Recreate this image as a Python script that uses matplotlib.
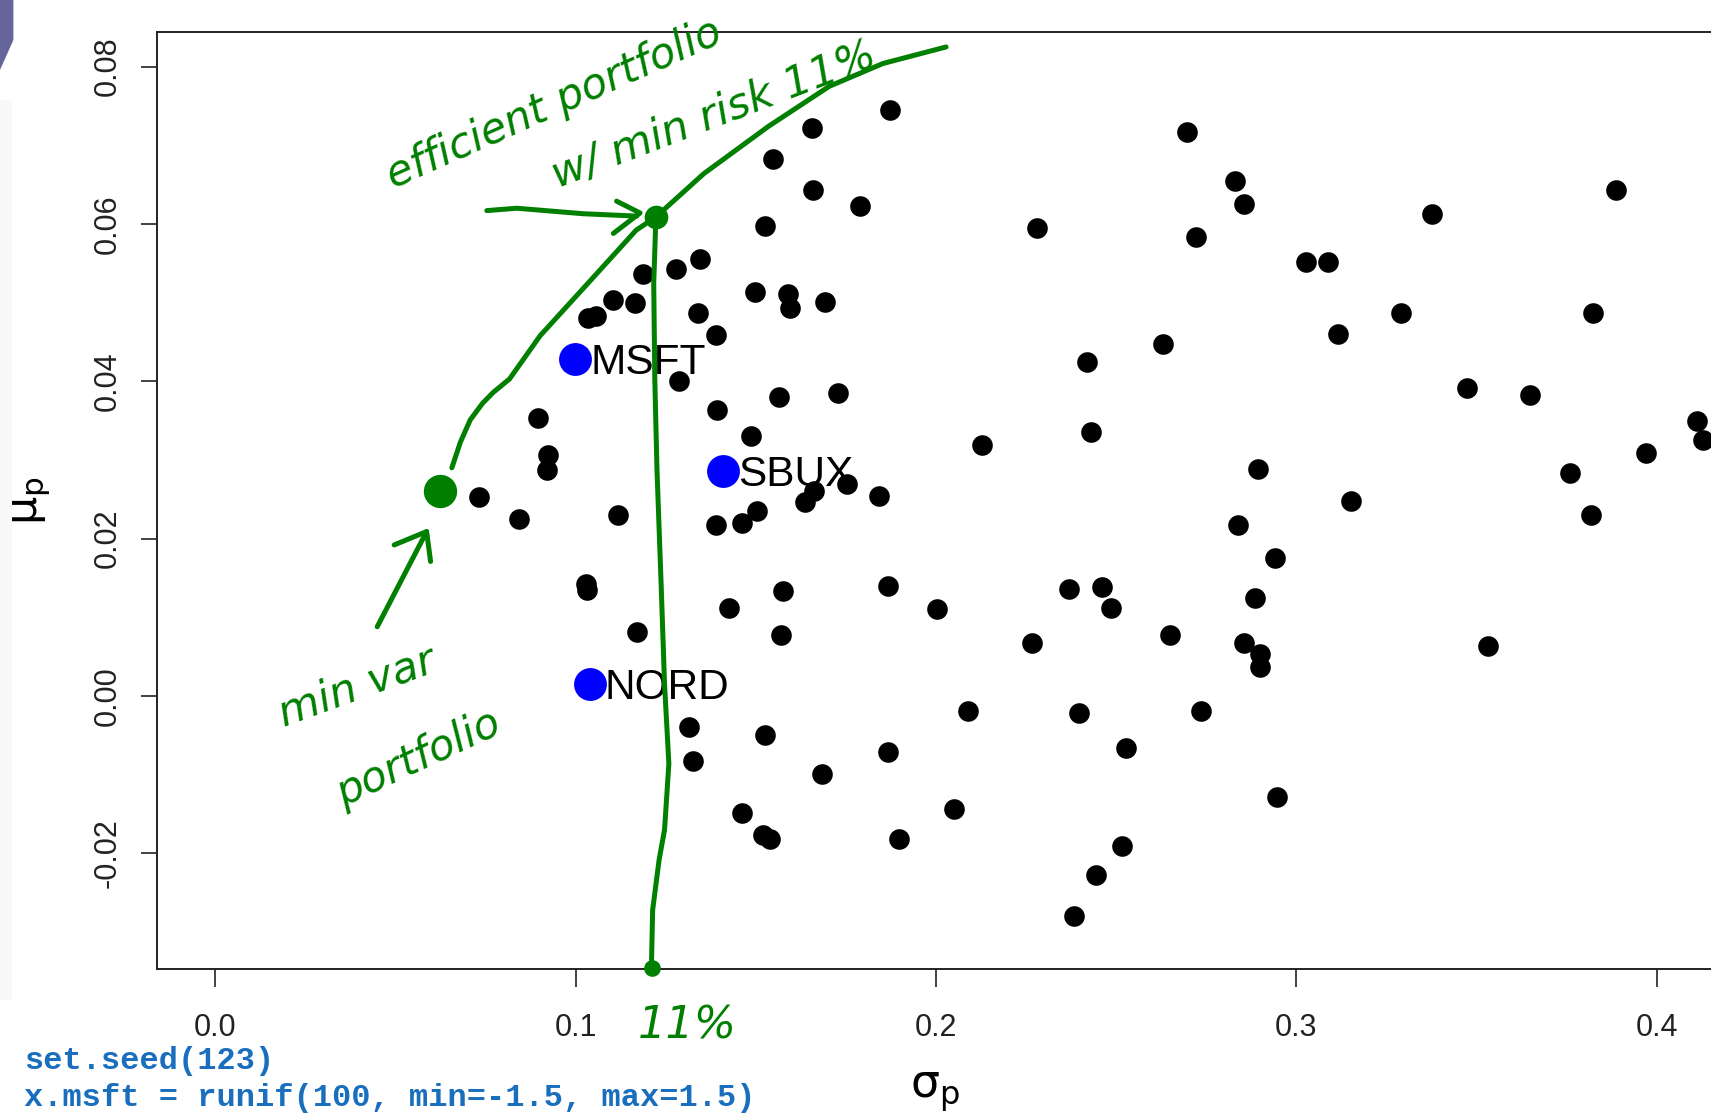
import matplotlib
matplotlib.use("Agg")
import matplotlib.pyplot as plt
from matplotlib.patches import Polygon

# ---------------- data ----------------
sigma_p = [0.1872, 0.1655, 0.1549, 0.1660, 0.1790, 0.1525, 0.1345, 0.1278, 0.1188, 0.1498,
           0.1590, 0.1596, 0.1692, 0.1103, 0.1165, 0.1035, 0.1056, 0.1339, 0.1390, 0.1288,
           0.1565, 0.1728, 0.1392, 0.0895, 0.0925, 0.0920, 0.1488, 0.0731, 0.0842, 0.1119,
           0.1390, 0.1461, 0.1504, 0.1636, 0.1662, 0.1753, 0.1841, 0.1028, 0.1031, 0.1427,
           0.1576, 0.1171, 0.1570, 0.1314, 0.1325, 0.1525, 0.1683, 0.1463, 0.1519, 0.1540,
           0.1866, 0.1898, 0.2051, 0.2090, 0.2004, 0.1866, 0.2127, 0.2280, 0.2696, 0.2829,
           0.2854, 0.2721, 0.3027, 0.3088, 0.3115, 0.3289, 0.3376, 0.2629, 0.2419, 0.2429,
           0.2894, 0.2839, 0.3152, 0.2941, 0.2884, 0.2461, 0.2369, 0.2485, 0.2650, 0.2266,
           0.2854, 0.2900, 0.2900, 0.2398, 0.2736, 0.2528, 0.2946, 0.2517, 0.2445, 0.2383,
           0.3473, 0.3647, 0.3760, 0.3816, 0.3822, 0.3887, 0.3969, 0.4112, 0.4127, 0.3530]
mu_p = [0.0745, 0.0722, 0.0682, 0.0643, 0.0623, 0.0598, 0.0555, 0.0543, 0.0537, 0.0514,
        0.0511, 0.0493, 0.0501, 0.0504, 0.0499, 0.0481, 0.0483, 0.0487, 0.0459, 0.0400,
        0.0380, 0.0385, 0.0364, 0.0353, 0.0306, 0.0287, 0.0330, 0.0253, 0.0225, 0.0230,
        0.0218, 0.0220, 0.0235, 0.0247, 0.0261, 0.0270, 0.0254, 0.0143, 0.0135, 0.0112,
        0.0133, 0.0081, 0.0078, -0.0040, -0.0083, -0.0050, -0.0099, -0.0149, -0.0177, -0.0182,
        -0.0071, -0.0182, -0.0144, -0.0019, 0.0110, 0.0140, 0.0319, 0.0595, 0.0717, 0.0655,
        0.0625, 0.0583, 0.0552, 0.0552, 0.0460, 0.0487, 0.0613, 0.0448, 0.0425, 0.0335,
        0.0289, 0.0218, 0.0248, 0.0176, 0.0125, 0.0138, 0.0136, 0.0112, 0.0078, 0.0068,
        0.0068, 0.0054, 0.0037, -0.0021, -0.0019, -0.0066, -0.0129, -0.0191, -0.0227, -0.0280,
        0.0392, 0.0382, 0.0284, 0.0230, 0.0487, 0.0643, 0.0309, 0.0349, 0.0326, 0.0063]

asset_names = ["MSFT", "SBUX", "NORD"]
asset_sigma = [0.0999, 0.1408, 0.1039]
asset_mu = [0.0429, 0.0286, 0.0015]

xticks = [0.0, 0.1, 0.2, 0.3, 0.4]
xtick_labels = ["0.0", "0.1", "0.2", "0.3", "0.4"]
yticks = [-0.02, 0.00, 0.02, 0.04, 0.06, 0.08]
ytick_labels = ["-0.02", "0.00", "0.02", "0.04", "0.06", "0.08"]

code_lines = ["set.seed(123)", "x.msft = runif(100, min=-1.5, max=1.5)"]

# hand-drawn annotations (data coordinates)
frontier_sigma = [0.0657, 0.0681, 0.0708, 0.0742, 0.0772, 0.0817, 0.0902, 0.1069,
                  0.1168, 0.1223, 0.1356, 0.1535, 0.1704, 0.1853, 0.2028]
frontier_mu = [0.0290, 0.0323, 0.0351, 0.0372, 0.0386, 0.0403, 0.0458, 0.0542,
               0.0592, 0.0609, 0.0664, 0.0724, 0.0775, 0.0804, 0.0825]
vline_sigma = [0.1223, 0.1217, 0.1220, 0.1226, 0.1238, 0.1247, 0.1259, 0.1247,
               0.1232, 0.1214, 0.1211]
vline_mu = [0.0609, 0.0524, 0.0402, 0.0288, 0.0136, 0.0015, -0.0086, -0.0170,
            -0.0208, -0.0272, -0.0336]
eff_point = (0.1223, 0.0609)
minvar_point = (0.0624, 0.0260)
axis_point = (0.1211, -0.0346)
arrow1_shaft_sigma = [0.0754, 0.0837, 0.1022, 0.1170]
arrow1_shaft_mu = [0.0617, 0.0620, 0.0613, 0.0610]
arrow1_head_sigma = [0.1114, 0.1179, 0.1105]
arrow1_head_mu = [0.0629, 0.0614, 0.0588]
arrow2_shaft_sigma = [0.0450, 0.0587]
arrow2_shaft_mu = [0.0088, 0.0209]
arrow2_head_sigma = [0.0497, 0.0587, 0.0598]
arrow2_head_mu = [0.0192, 0.0209, 0.0171]

# ---------------- figure ----------------
W, H = 1711, 1114
fig = plt.figure(figsize=(W / 100, H / 100), dpi=100)
fig.patch.set_facecolor("white")

# axes box in pixels (left, top, right, bottom); right edge runs past the canvas
L_px, T_px, R_px, B_px = 157, 31.7, 1723, 969
ax = fig.add_axes([L_px / W, 1 - B_px / H, (R_px - L_px) / W, (B_px - T_px) / H])
ax.set_xlim(-0.01609, 0.41831)
ax.set_ylim(-0.03470, 0.08444)

DARK = "#222222"
for s in ax.spines.values():
    s.set_color(DARK)
    s.set_linewidth(1.4)

ax.set_xticks(xticks)
ax.set_xticklabels(xtick_labels, family="Liberation Sans", fontsize=22, color=DARK)
ax.set_yticks(yticks)
ax.set_yticklabels(ytick_labels, family="Liberation Sans", fontsize=22, color=DARK,
                   rotation=90, va="center")
ax.tick_params(axis="x", direction="out", length=13, width=1.2, color=DARK, pad=19)
ax.tick_params(axis="y", direction="out", length=11.5, width=1.2, color=DARK, pad=13)

# points
ax.scatter(sigma_p, mu_p, s=220, c="black", linewidths=0, zorder=3)
ax.scatter(asset_sigma, asset_mu, s=560, c="#0000ff", linewidths=0, zorder=3)
for name, xs, ys in zip(asset_names, asset_sigma, asset_mu):
    ax.annotate(name, (xs, ys), xytext=(11, -3), textcoords="offset points",
                ha="left", va="center", fontsize=30.5, family="Liberation Sans",
                color="black", zorder=4)

# axis labels
ax.set_xlabel("σ$_{\\mathrm{p}}$", fontsize=33, family="DejaVu Sans", va="baseline")
ax.xaxis.set_label_coords((935 - L_px) / (R_px - L_px), (B_px - 1097) / (B_px - T_px))
ax.set_ylabel("μ$_{\\mathrm{p}}$", fontsize=32, family="DejaVu Sans", va="baseline")
ax.yaxis.set_label_coords((37 - L_px) / (R_px - L_px), 0.5)

# ---------------- hand-drawn green annotations ----------------
G = "#007f00"
kw = dict(color=G, lw=3.6, solid_capstyle="round", solid_joinstyle="round",
          clip_on=False, zorder=5)
ax.plot(frontier_sigma, frontier_mu, **kw)
ax.plot(vline_sigma, vline_mu, **kw)
ax.plot(arrow1_shaft_sigma, arrow1_shaft_mu, **kw)
ax.plot(arrow1_head_sigma, arrow1_head_mu, **kw)
ax.plot(arrow2_shaft_sigma, arrow2_shaft_mu, **kw)
ax.plot(arrow2_head_sigma, arrow2_head_mu, **kw)
ax.plot([eff_point[0]], [eff_point[1]], "o", color=G, ms=17, mew=0, clip_on=False, zorder=6)
ax.plot([minvar_point[0]], [minvar_point[1]], "o", color=G, ms=24, mew=0, clip_on=False, zorder=6)
ax.plot([axis_point[0]], [axis_point[1]], "o", color=G, ms=12, mew=0, clip_on=False, zorder=6)

tkw = dict(color=G, style="italic", family="DejaVu Sans", rotation_mode="anchor",
           ha="center", va="center", zorder=6, clip_on=False)
ax.text(0.0940, 0.0752, "efficient portfolio", rotation=24, fontsize=30.5, **tkw)
ax.text(0.1385, 0.0738, "w/ min risk 11%", rotation=21, fontsize=31, **tkw)
ax.text(0.0394, 0.0011, "min var", rotation=20, fontsize=31, **tkw)
ax.text(0.0565, -0.0079, "portfolio", rotation=25, fontsize=30.5, **tkw)
ax.text(0.1311, -0.0419, "11%", rotation=0, fontsize=32, **tkw)

# ---------------- slide decorations ----------------
fig.patches.append(Polygon([[0, 1], [13.4 / W, 1], [13.4 / W, 1 - 40 / H], [0, 1 - 70 / H]],
                           closed=True, transform=fig.transFigure,
                           facecolor="#65659b", edgecolor="none"))
fig.patches.append(Polygon([[0, 1 - 100 / H], [12 / W, 1 - 100 / H], [12 / W, 1 - 1000 / H],
                            [0, 1 - 1000 / H]], closed=True, transform=fig.transFigure,
                           facecolor="#f9f9f8", edgecolor="none"))

# R console code lines under the plot
for line, base_px in zip(code_lines, [1069, 1106]):
    fig.text(24.5 / W, 1 - base_px / H, line, family="Liberation Mono", weight="bold",
             fontsize=23, color="#1a6ebe", ha="left", va="baseline")

fig.savefig("out.png", dpi=100, facecolor="white")
